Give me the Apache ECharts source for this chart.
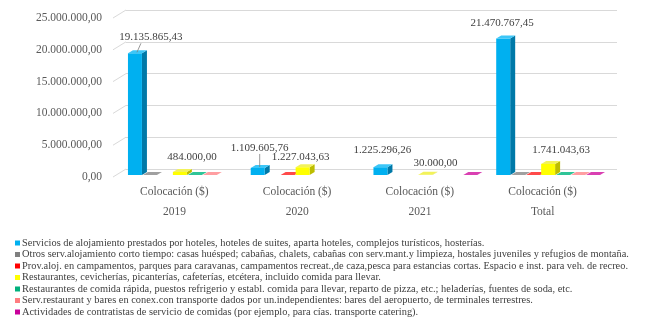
<!DOCTYPE html>
<html>
<head>
<meta charset="utf-8">
<script src="https://cdn.jsdelivr.net/npm/echarts@6/dist/echarts.min.js"></script>
<style>
html, body { margin: 0; padding: 0; background: #fff; }
#chart { width: 648px; height: 317px; }
</style>
</head>
<body>
<div id="chart"></div>
<script>
var years = ['2019', '2020', '2021', 'Total'];
var catLabel = 'Colocación ($)';
var seriesNames = [
    'Servicios de alojamiento prestados por hoteles, hoteles de suites, aparta hoteles, complejos turísticos, hosterías.',
    'Otros serv.alojamiento corto tiempo: casas huésped; cabañas, chalets, cabañas con serv.mant.y limpieza, hostales juveniles y refugios de montaña.',
    'Prov.aloj. en campamentos, parques para caravanas, campamentos recreat.,de caza,pesca para estancias cortas. Espacio e inst. para veh. de recreo.',
    'Restaurantes, cevicherías, picanterías, cafeterías, etcétera, incluido comida para llevar.',
    'Restaurantes de comida rápida, puestos refrigerio y establ. comida para llevar, reparto de pizza, etc.; heladerías, fuentes de soda, etc.',
    'Serv.restaurant y bares en conex.con transporte dados por un.independientes: bares del aeropuerto, de terminales terrestres.',
    'Actividades de contratistas de servicio de comidas (por ejemplo, para cías. transporte catering).'
];
// null = no bar, 0 = flat bar
var alojHoteles    = [19135865.43, 1109605.76, 1225296.26, 21470767.45];
var otrosAloj      = [0, null, null, 0];
var campamentos    = [null, 0, null, 0];
var restaurantes   = [484000, 1227043.63, 30000, 1741043.63];
var comidaRapida   = [0, null, null, 0];
var restTransporte = [0, null, null, 0];
var catering       = [null, null, 0, 0];
var yTicks = [0, 5000000, 10000000, 15000000, 20000000, 25000000];

var allValues = [alojHoteles, otrosAloj, campamentos, restaurantes, comidaRapida, restTransporte, catering];

var colors = [
    {front: '#00B0F0', side: '#0079A8', top: '#3CC6F7'},
    {front: '#808080', side: '#595959', top: '#A0A0A0'},
    {front: '#FF0000', side: '#B00000', top: '#FF4A4A'},
    {front: '#FFFF00', side: '#BDBD00', top: '#F2F25A'},
    {front: '#00B07C', side: '#007A56', top: '#2FC497'},
    {front: '#FF7C80', side: '#CC5A5E', top: '#FF9EA1'},
    {front: '#C8009A', side: '#8A006A', top: '#D940B2'}
];

// label nudges "series-category": [dx, dy, leader]
var labelNudge = {
    '0-0': [14, -13, true],
    '0-1': [0, -17, true],
    '0-2': [0, -14],
    '0-3': [-3, -12],
    '3-0': [10, -12],
    '3-1': [-4, -7],
    '3-2': [8, -9],
    '3-3': [11, -11]
};

function fmt(n) {
    var parts = n.toFixed(2).split('.');
    return parts[0].replace(/\B(?=(\d{3})+(?!\d))/g, '.') + ',' + parts[1];
}

function barRender(sIdx) {
    return function (params, api) {
        var c = api.value(0);
        var v = api.value(1);
        var band = api.size([1, 0])[0];
        var slot = band * 0.122;
        var base = api.coord([c, 0]);
        var top = api.coord([c, v]);
        var fw = slot - 1, dx = 5, dy = -3;
        var x0 = base[0] - 3.5 * slot + 6 + sIdx * slot;
        var yb = base[1] - 2, yt = top[1] - 2;
        var col = colors[sIdx];
        var children = [
            {type: 'polygon', shape: {points: [[x0 + fw, yt], [x0 + fw + dx, yt + dy], [x0 + fw + dx, yb + dy], [x0 + fw, yb]]},
             style: {fill: col.side}},
            {type: 'rect', shape: {x: x0, y: yt, width: fw, height: yb - yt}, style: {fill: col.front}},
            {type: 'polygon', shape: {points: [[x0, yt], [x0 + dx, yt + dy], [x0 + fw + dx, yt + dy], [x0 + fw, yt]]},
             style: {fill: col.top}}
        ];
        if (v > 0) {
            var nd = labelNudge[sIdx + '-' + c] || [6, -12];
            var lx = x0 + fw / 2 + 2 + nd[0], ly = yt + dy + nd[1];
            if (nd[2]) {
                children.push({type: 'line', shape: {x1: x0 + fw / 2 + 2, y1: yt - 1, x2: lx - (nd[0] > 0 ? 10 : 0), y2: ly + 6},
                    style: {stroke: '#7F7F7F', lineWidth: 0.8}});
            }
            children.push({type: 'text', style: {x: lx, y: ly, text: fmt(v), align: 'center', verticalAlign: 'middle',
                fill: '#404040', font: '11px "Liberation Serif"'}});
        }
        return {type: 'group', children: children};
    };
}

function diagRender(params, api) {
    var v = api.value(1);
    var p = api.coord([0, v]);
    var left = params.coordSys.x;
    return {type: 'line', shape: {x1: left, y1: p[1], x2: left + 13, y2: p[1] - 8},
        style: {stroke: '#D9D9D9', lineWidth: 1}};
}

var series = [{
    type: 'custom', xAxisIndex: 0, yAxisIndex: 0, silent: true,
    renderItem: diagRender,
    data: yTicks.map(function (t) { return [0, t]; }),
    z: 1
}];
allValues.forEach(function (arr, s) {
    var data = [];
    arr.forEach(function (v, i) { if (v != null) data.push([i, v]); });
    series.push({
        name: seriesNames[s], type: 'custom', xAxisIndex: 0, yAxisIndex: 0,
        itemStyle: {color: colors[s].front},
        encode: {x: 0, y: 1},
        renderItem: barRender(s),
        data: data,
        z: 3
    });
});

var chart = echarts.init(document.getElementById('chart'));
chart.setOption({
    backgroundColor: '#fff',
    animation: false,
    grid: [
        {left: 113, right: 44, top: 18, bottom: 140},
        {left: 126, right: 31, top: 10, bottom: 148}
    ],
    xAxis: [{
        type: 'category', gridIndex: 0, data: years,
        axisLine: {show: false}, axisTick: {show: false},
        axisLabel: {
            margin: 5, interval: 0,
            formatter: function (y) { return '{a|' + catLabel + '}\n{b|' + y + '}'; },
            rich: {
                a: {fontFamily: 'Liberation Serif', fontSize: 11.5, color: '#595959', lineHeight: 20},
                b: {fontFamily: 'Liberation Serif', fontSize: 11.5, color: '#595959', lineHeight: 20}
            }
        }
    }, {
        type: 'category', gridIndex: 1, data: years, show: false
    }],
    yAxis: [{
        type: 'value', gridIndex: 0, min: 0, max: yTicks[yTicks.length - 1], interval: yTicks[1],
        axisLine: {show: false}, axisTick: {show: false}, splitLine: {show: false},
        axisLabel: {margin: 11, formatter: fmt, fontFamily: 'Liberation Serif', fontSize: 11.5, color: '#595959'}
    }, {
        type: 'value', gridIndex: 1, min: 0, max: yTicks[yTicks.length - 1], interval: yTicks[1],
        axisLine: {show: false}, axisTick: {show: false}, axisLabel: {show: false},
        splitLine: {lineStyle: {color: '#D9D9D9', width: 1}}
    }],
    legend: {
        orient: 'vertical', left: 15, top: 238, padding: 0,
        icon: 'rect', itemWidth: 5, itemHeight: 5, itemGap: 1.5,
        selectedMode: false,
        data: seriesNames,
        textStyle: {fontFamily: 'Liberation Serif', fontSize: 10.4, lineHeight: 10, color: '#404040', padding: [0, 0, 0, -3]}
    },
    series: series
});
</script>
</body>
</html>
